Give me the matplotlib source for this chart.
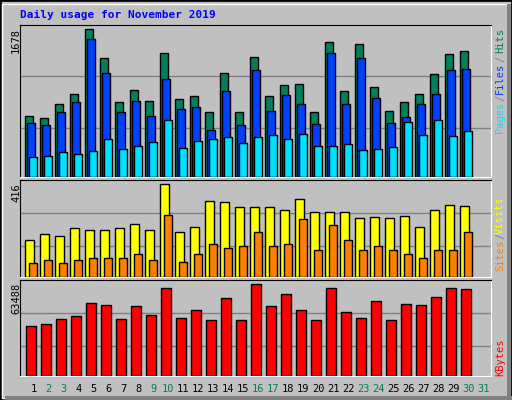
import matplotlib
matplotlib.use("Agg")
import matplotlib.pyplot as plt
from matplotlib.patches import Rectangle

days = list(range(1, 31))
hits = [698, 676, 835, 938, 1678, 1348, 847, 987, 858, 1405, 881, 915, 744, 1177, 744,
        1359, 915, 1040, 1052, 733, 1530, 972, 1507, 1017, 755, 847, 938, 1165, 1393, 1427]
files = [619, 596, 744, 847, 1564, 1177, 733, 858, 698, 1108, 767, 801, 539, 972, 596,
         1211, 755, 926, 824, 607, 1405, 835, 1348, 892, 619, 687, 824, 938, 1211, 1222]
pages = [232, 243, 288, 266, 300, 437, 323, 357, 402, 642, 334, 414, 437, 459, 391,
         459, 482, 437, 493, 357, 357, 380, 311, 323, 345, 630, 482, 653, 471, 528]
visits = [164, 191, 186, 218, 213, 209, 218, 236, 213, 416, 204, 222, 339, 335, 312,
          312, 312, 299, 348, 290, 290, 290, 263, 267, 263, 272, 222, 299, 321, 317]
sites = [65, 78, 65, 78, 87, 83, 87, 101, 74, 276, 69, 101, 146, 132, 141,
         200, 137, 150, 258, 119, 231, 164, 119, 137, 123, 105, 83, 123, 119, 204]
kbytes = [34292, 35682, 39157, 41242, 50279, 48889, 39157, 48194, 41938, 60706, 39852, 45413,
          38462, 53754, 38462, 63488, 48194, 56535, 45413, 38462, 60706, 44023, 39852, 51669,
          38462, 49584, 48889, 54449, 60706, 60011]
weekend = [2, 3, 9, 10, 16, 17, 23, 24, 30, 31]

W, H = 512, 400
fig = plt.figure(figsize=(5.12, 4.0), dpi=100)
fig.patch.set_facecolor("#C0C0C0")
mono = "DejaVu Sans Mono"

# outer bevel
fig.patches.append(Rectangle((0, 0), 1, 1, transform=fig.transFigure, fill=False,
                             edgecolor="black", lw=2))
fig.patches.append(Rectangle((2/W, 2/H), 1-6/W, 1-6/H, transform=fig.transFigure, fill=False,
                             edgecolor="white", lw=1))
fig.patches.append(Rectangle((5/W, 0), 1-5/W, 4/H, transform=fig.transFigure,
                             facecolor="#808080", edgecolor="none"))
fig.patches.append(Rectangle((1-5/W, 0), 4/W, 1-4/H, transform=fig.transFigure,
                             facecolor="#808080", edgecolor="none"))


def panel(top, bottom):
    ax = fig.add_axes([20/W, 1-bottom/H, (491-20)/W, (bottom-top)/H])
    ax.set_facecolor("#C0C0C0")
    ax.set_xlim(0.11, 31.51)
    ax.set_xticks([])
    ax.set_yticks([])
    ax.spines["left"].set_color("black")
    ax.spines["top"].set_color("black")
    ax.spines["right"].set_color("white")
    ax.spines["bottom"].set_color("white")
    return ax


def bars(ax, vals, off, w, color):
    ax.bar([d + off for d in days], vals, width=w, align="edge", color=color,
           edgecolor="black", lw=1, zorder=3)


ax1 = panel(25, 177)
ax1.set_ylim(0, 1727)
for g in (562, 1143):
    ax1.axhline(g, color="#808080", lw=1, zorder=1)
bars(ax1, hits, -0.53, 0.49, "#00805C")
bars(ax1, files, -0.42, 0.51, "#0040FF")
bars(ax1, pages, -0.27, 0.50, "#00E0FF")

ax2 = panel(180, 277)
ax2.set_ylim(0, 435)
for g in (137, 285):
    ax2.axhline(g, color="#808080", lw=1, zorder=1)
bars(ax2, visits, -0.53, 0.55, "#FFFF00")
bars(ax2, sites, -0.27, 0.50, "#FF8000")

ax3 = panel(280, 376)
ax3.set_ylim(0, 66500)
for g in (20850, 43330):
    ax3.axhline(g, color="#808080", lw=1, zorder=1)
bars(ax3, kbytes, -0.47, 0.67, "#FF0000")

fig.text(20/W, 1-15/H, "Daily usage for November 2019", color="#0000FF", family=mono,
         weight="bold", fontsize=8, va="center")

for txt, y in (("1678", 28), ("416", 183), ("63488", 283)):
    fig.text(16/W, 1-y/H, txt, rotation=90, family=mono, fontsize=7.5, ha="center", va="top")

for txt, col, y in (("Hits", "#00805C", 28), ("/", "#808080", 56), ("Files", "#0040FF", 63),
                    ("/", "#808080", 95), ("Pages", "#00E0FF", 102),
                    ("Visits", "#FFFF00", 197), ("/", "#808080", 233), ("Sites", "#FF8000", 240),
                    ("KBytes", "#FF0000", 338)):
    fig.text(500/W, 1-y/H, txt, rotation=90, family=mono, fontsize=7.5, color=col,
             ha="center", va="top")

for d in range(1, 32):
    x = 20 + (d - 0.11) * 15
    fig.text(x/W, 1-389/H, str(d), family=mono, fontsize=7.5, ha="center", va="center",
             color="#00805C" if d in weekend else "black")

plt.savefig("out.png", dpi=100, facecolor=fig.get_facecolor())
